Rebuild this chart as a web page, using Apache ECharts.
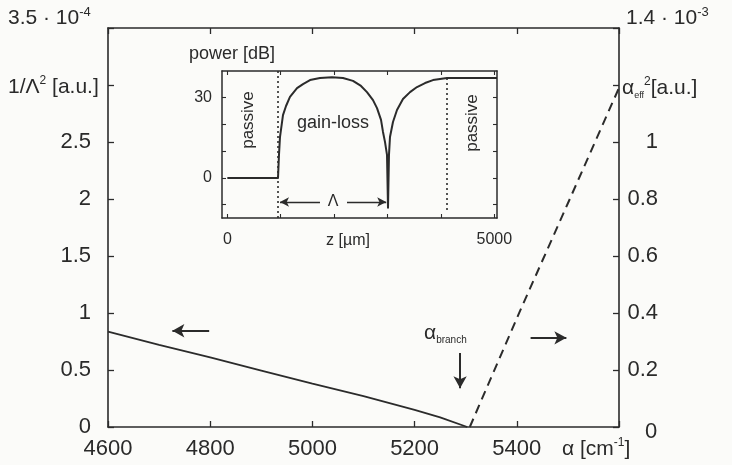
<!DOCTYPE html>
<html>
<head>
<meta charset="utf-8">
<script src="https://cdn.jsdelivr.net/npm/echarts@6/dist/echarts.min.js"></script>
<style>html,body{margin:0;padding:0;background:#fbfbf9;}#c{width:732px;height:465px;}</style>
</head>
<body>
<div id="c"></div>
<script>
// ---- data ----
const alphaSolid = [4600, 4700, 4800, 4900, 5000, 5100, 5200, 5250, 5303];
const invLambda2 = [0.836, 0.72, 0.61, 0.495, 0.38, 0.27, 0.15, 0.085, 0];
const alphaDashed = [5308, 5407, 5500, 5600];
const alphaEff2 = [0, 0.41, 0.785, 1.19];
const zInset = [0, 949, 967, 986, 1042, 1099, 1173, 1305, 1417, 1548, 1735, 1960, 2166, 2353, 2503, 2615, 2728, 2803, 2878, 2915, 2953, 2990, 3009, 3027, 3046, 3102, 3177, 3289, 3421, 3552, 3702, 3851, 3983, 4113, 5050];
const powerInset = [0, 0, 8.6, 15.3, 23.5, 26.9, 30.3, 33.6, 35.1, 36.6, 37.4, 37.7, 37.4, 36.3, 34.4, 32.1, 29.1, 26.1, 21.7, 17.2, 13.4, 8.6, -11.2, 8.6, 15.3, 20.9, 25.4, 29.5, 32.1, 34.0, 35.5, 36.6, 37.0, 37.4, 37.4];
const insetBoundaries = [949, 4113];
const insetXTicks = [0, 1000, 2000, 3000, 4000, 5000];
const insetXLabels = [0, 5000];
const insetYTicks = [-10, 0, 10, 20, 30];
const insetYLabels = [0, 30];

const FONT = 'Liberation Sans, Arial, sans-serif';
const INK = '#2b2b2b';
const TXT = '#2a2a2a';

const chart = echarts.init(document.getElementById('c'));
const pair = (xs, ys) => xs.map((x, i) => [x, ys[i]]);

const mainAxisLine = { show: true, onZero: false, lineStyle: { color: INK, width: 1.6 } };
const insetAxisLine = { show: true, onZero: false, lineStyle: { color: INK, width: 1.5 } };
const mainTick = { show: true, inside: true, length: 6, lineStyle: { color: INK, width: 1.3 } };
const insetTick = (vals) => ({ show: true, inside: true, length: 4, customValues: vals, lineStyle: { color: INK, width: 1.1 } });

const option = {
  backgroundColor: '#fbfbf9',
  animation: false,
  grid: [
    { left: 108, right: 113, top: 28, bottom: 38, outerBoundsMode: 'none' },
    { left: 222, top: 71, width: 275, height: 147, outerBoundsMode: 'none' }
  ],
  xAxis: [
    { gridIndex: 0, type: 'value', min: 4600, max: 5600, interval: 200, position: 'bottom',
      axisLine: mainAxisLine, axisTick: mainTick, splitLine: { show: false },
      axisLabel: { fontSize: 22, color: TXT, fontFamily: FONT, margin: 11,
        formatter: v => (v === 5600 ? '' : String(v)) } },
    { gridIndex: 0, type: 'value', min: 4600, max: 5600, interval: 200, position: 'top',
      axisLine: mainAxisLine, axisTick: mainTick, splitLine: { show: false }, axisLabel: { show: false } },
    { gridIndex: 1, type: 'value', min: -100, max: 5050, position: 'bottom',
      axisLine: insetAxisLine, axisTick: insetTick(insetXTicks),
      splitLine: { show: false },
      axisLabel: { customValues: insetXLabels, fontSize: 16, color: TXT, fontFamily: FONT, margin: 14,
        formatter: v => String(v) } },
    { gridIndex: 1, type: 'value', min: -100, max: 5050, position: 'top',
      axisLine: insetAxisLine, axisTick: insetTick(insetXTicks),
      splitLine: { show: false }, axisLabel: { show: false } }
  ],
  yAxis: [
    { gridIndex: 0, type: 'value', min: 0, max: 3.5, interval: 0.5, position: 'left',
      axisLine: mainAxisLine, axisTick: mainTick, splitLine: { show: false },
      axisLabel: { fontSize: 22, color: TXT, fontFamily: FONT, margin: 17,
        formatter: v => (v >= 3 ? '' : String(v)) } },
    { gridIndex: 0, type: 'value', min: 0, max: 1.4, interval: 0.2, position: 'right',
      axisLine: mainAxisLine, axisTick: mainTick, splitLine: { show: false },
      axisLabel: { fontSize: 22, color: TXT, fontFamily: FONT, margin: 39, align: 'right',
        formatter: v => (v === 0 || v > 1.1 ? '' : String(+v.toFixed(1))) } },
    { gridIndex: 1, type: 'value', min: -15, max: 40, position: 'left',
      axisLine: insetAxisLine, axisTick: insetTick(insetYTicks),
      splitLine: { show: false },
      axisLabel: { customValues: insetYLabels, fontSize: 16, color: TXT, fontFamily: FONT, margin: 10 } },
    { gridIndex: 1, type: 'value', min: -15, max: 40, position: 'right',
      axisLine: insetAxisLine, axisTick: insetTick(insetYTicks),
      splitLine: { show: false }, axisLabel: { show: false } }
  ],
  series: [
    { type: 'line', xAxisIndex: 0, yAxisIndex: 0, data: pair(alphaSolid, invLambda2),
      showSymbol: false, silent: true, lineStyle: { color: INK, width: 1.8 },
      markLine: { silent: true, symbol: ['none', 'arrow'], symbolSize: [10, 12], label: { show: false },
        lineStyle: { color: INK, width: 2, type: 'solid' }, emphasis: { disabled: true },
        data: [
          [{ coord: [4798, 0.844] }, { coord: [4726, 0.844] }],
          [{ coord: [5289, 0.65] }, { coord: [5289, 0.34] }]
        ] } },
    { type: 'line', xAxisIndex: 0, yAxisIndex: 1, data: pair(alphaDashed, alphaEff2),
      showSymbol: false, silent: true, lineStyle: { color: INK, width: 2, type: [9, 6] },
      markLine: { silent: true, symbol: ['none', 'arrow'], symbolSize: [10, 12], label: { show: false },
        lineStyle: { color: INK, width: 2, type: 'solid' }, emphasis: { disabled: true },
        data: [
          [{ coord: [5427, 0.313] }, { coord: [5497, 0.313] }]
        ] } },
    { type: 'line', xAxisIndex: 2, yAxisIndex: 2, data: pair(zInset, powerInset),
      showSymbol: false, silent: true,
      lineStyle: { color: INK, width: 2, join: 'round' },
      markLine: { silent: true, symbol: ['none', 'none'], label: { show: false }, emphasis: { disabled: true },
        data: [
          [{ coord: [insetBoundaries[0], -15], lineStyle: { type: [2, 3], width: 1.6, color: INK } },
           { coord: [insetBoundaries[0], 40] }],
          [{ coord: [insetBoundaries[1], -12], lineStyle: { type: [2, 3], width: 1.6, color: INK } },
           { coord: [insetBoundaries[1], 37.4] }],
          [{ coord: [1735, -9], symbol: 'none', lineStyle: { type: 'solid', width: 1.3, color: INK } },
           { coord: [986, -9], symbol: 'arrow', symbolSize: [7, 9] }],
          [{ coord: [2241, -9], symbol: 'none', lineStyle: { type: 'solid', width: 1.3, color: INK } },
           { coord: [2975, -9], symbol: 'arrow', symbolSize: [7, 9] }]
        ] } }
  ],
  graphic: [
    { type: 'text', left: 8, top: 6, silent: true,
      style: { text: '{a|3.5 · 10}{s|-4}', fill: TXT, font: '21px ' + FONT,
        rich: { a: { fontSize: 21, fontFamily: FONT, fill: TXT, lineHeight: 24 },
                s: { fontSize: 13, fontFamily: FONT, fill: TXT, verticalAlign: 'top', lineHeight: 14 } } } },
    { type: 'text', left: 626, top: 6, silent: true,
      style: { text: '{a|1.4 · 10}{s|-3}', fill: TXT, font: '21px ' + FONT,
        rich: { a: { fontSize: 21, fontFamily: FONT, fill: TXT, lineHeight: 24 },
                s: { fontSize: 13, fontFamily: FONT, fill: TXT, verticalAlign: 'top', lineHeight: 14 } } } },
    { type: 'text', left: 8, top: 75, silent: true,
      style: { text: '{a|1/Λ}{s|2}{a| [a.u.]}', fill: TXT, font: '21px ' + FONT,
        rich: { a: { fontSize: 21, fontFamily: FONT, fill: TXT, lineHeight: 24 },
                s: { fontSize: 12, fontFamily: FONT, fill: TXT, verticalAlign: 'top', lineHeight: 13 } } } },
    { type: 'text', left: 622, top: 76, silent: true,
      style: { text: '{a|α}{b|eff}{s|2}{a|[a.u.]}', fill: TXT, font: '21px ' + FONT,
        rich: { a: { fontSize: 21, fontFamily: FONT, fill: TXT, lineHeight: 24 },
                b: { fontSize: 9, fontFamily: FONT, fill: TXT, verticalAlign: 'bottom', lineHeight: 14 },
                s: { fontSize: 12, fontFamily: FONT, fill: TXT, verticalAlign: 'top', lineHeight: 13 } } } },
    { type: 'text', left: 645, top: 421, silent: true,
      style: { text: '0', fill: TXT, font: '22px ' + FONT } },
    { type: 'text', left: 562, top: 437, silent: true,
      style: { text: '{a|α [cm}{s|-1}{a|]}', fill: TXT, font: '21px ' + FONT,
        rich: { a: { fontSize: 21, fontFamily: FONT, fill: TXT, lineHeight: 24 },
                s: { fontSize: 12, fontFamily: FONT, fill: TXT, verticalAlign: 'top', lineHeight: 13 } } } },
    { type: 'text', left: 424, top: 323, silent: true,
      style: { text: '{a|α}{b|branch}', fill: TXT, font: '21px ' + FONT,
        rich: { a: { fontSize: 21, fontFamily: FONT, fill: TXT, lineHeight: 24 },
                b: { fontSize: 10, fontFamily: FONT, fill: TXT, verticalAlign: 'bottom', lineHeight: 14 } } } },
    { type: 'text', left: 189, top: 45, silent: true,
      style: { text: 'power [dB]', fill: TXT, font: '18px ' + FONT } },
    { type: 'text', x: 248, y: 120, rotation: Math.PI / 2, silent: true,
      style: { text: 'passive', fill: TXT, font: '17px ' + FONT, align: 'center', verticalAlign: 'middle' } },
    { type: 'text', x: 472, y: 123, rotation: Math.PI / 2, silent: true,
      style: { text: 'passive', fill: TXT, font: '17px ' + FONT, align: 'center', verticalAlign: 'middle' } },
    { type: 'text', x: 333, y: 123, silent: true,
      style: { text: 'gain-loss', fill: TXT, font: '18px ' + FONT, align: 'center', verticalAlign: 'middle' } },
    { type: 'text', x: 333, y: 202, silent: true,
      style: { text: 'Λ', fill: TXT, font: '16px ' + FONT, align: 'center', verticalAlign: 'middle' } },
    { type: 'text', x: 348, y: 241, silent: true,
      style: { text: 'z [µm]', fill: TXT, font: '16px ' + FONT, align: 'center', verticalAlign: 'middle' } }
  ]
};
chart.setOption(option);
</script>
</body>
</html>
